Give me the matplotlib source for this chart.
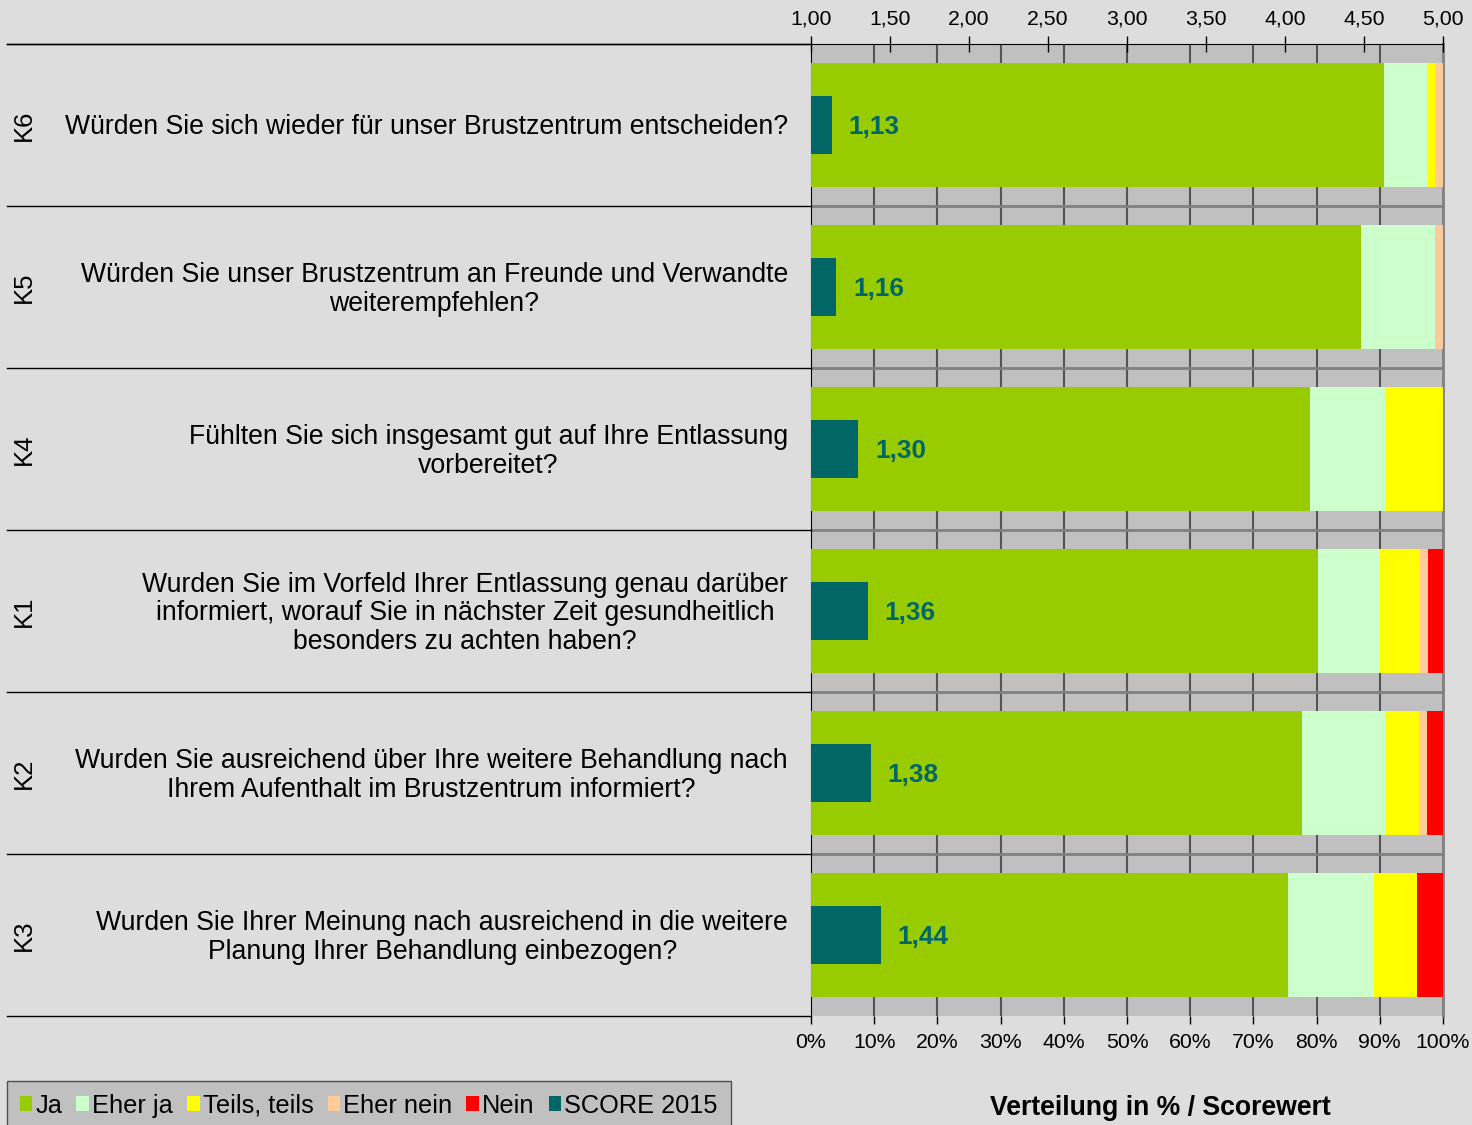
import matplotlib
matplotlib.use("Agg")
import matplotlib.pyplot as plt
from matplotlib.patches import Patch

plt.rcParams["font.family"] = ["Liberation Sans", "DejaVu Sans"]

# data (top row first)
codes = ["K6", "K5", "K4", "K1", "K2", "K3"]
questions = [
    "Würden Sie sich wieder für unser Brustzentrum entscheiden?",
    "Würden Sie unser Brustzentrum an Freunde und Verwandte\nweiterempfehlen?",
    "Fühlten Sie sich insgesamt gut auf Ihre Entlassung\nvorbereitet?",
    "Wurden Sie im Vorfeld Ihrer Entlassung genau darüber\ninformiert, worauf Sie in nächster Zeit gesundheitlich\nbesonders zu achten haben?",
    "Wurden Sie ausreichend über Ihre weitere Behandlung nach\nIhrem Aufenthalt im Brustzentrum informiert?",
    "Wurden Sie Ihrer Meinung nach ausreichend in die weitere\nPlanung Ihrer Behandlung einbezogen?",
]
ja = [90.6, 87.0, 79.0, 80.2, 77.7, 75.4]
eher_ja = [7.1, 11.8, 11.8, 9.9, 13.1, 13.7]
teils = [1.1, 0.0, 9.2, 6.3, 5.4, 6.8]
eher_nein = [1.2, 1.2, 0.0, 1.2, 1.3, 0.0]
nein = [0.0, 0.0, 0.0, 2.4, 2.5, 4.1]
score = [1.13, 1.16, 1.30, 1.36, 1.38, 1.44]

series_names = ["Ja", "Eher ja", "Teils, teils", "Eher nein", "Nein"]
series_colors = ["#99cc00", "#ccffcc", "#ffff00", "#ffcc99", "#ff0000"]
score_color = "#006666"
pct_ticks = list(range(0, 101, 10))
score_ticks = [1.0, 1.5, 2.0, 2.5, 3.0, 3.5, 4.0, 4.5, 5.0]

W, H = 1472, 1125
fig = plt.figure(figsize=(W / 100, H / 100), dpi=100, facecolor="#dddddd")
ax = fig.add_axes([811 / W, 1 - 1016 / H, 632 / W, 972 / H])
ax.set_facecolor("#c0c0c0")

rows = list(range(len(codes)))
left = [0.0] * len(codes)
for vals, color in zip([ja, eher_ja, teils, eher_nein, nein], series_colors):
    ax.barh(rows, vals, left=left, height=0.765, color=color, zorder=3)
    left = [l + v for l, v in zip(left, vals)]

ax.set_xlim(0, 100)
ax.set_ylim(len(codes) - 0.5, -0.5)
ax.set_yticks([])
ax.set_xticks(pct_ticks)
ax.set_xticklabels([f"{t}%" for t in pct_ticks], fontsize=15.3)
ax.tick_params(axis="x", direction="out", length=6, width=1, color="black", pad=6)

# grid: vertical per 10 %, horizontal at row boundaries
for t in pct_ticks[1:-1]:
    ax.axvline(t, color="#555555", lw=1.5, zorder=1)
for b in [r + 0.5 for r in rows[:-1]]:
    ax.axhline(b, color="#808080", lw=2, zorder=1)

for side in ["top", "bottom"]:
    ax.spines[side].set_visible(False)
ax.spines["right"].set_color("#808080")
ax.spines["right"].set_linewidth(2)
ax.spines["left"].set_color("black")

# separators in the label area
for b in [r - 0.5 for r in rows] + [rows[-1] + 0.5]:
    ax.plot([-804 / 632, 0], [b, b], transform=ax.get_yaxis_transform(),
            color="black", lw=1, clip_on=False, zorder=5)

# labels
for r, code, q in zip(rows, codes, questions):
    ax.text(-23 / 632, r + 0.015, q, transform=ax.get_yaxis_transform(), ha="right",
            va="center", multialignment="center", fontsize=19.2, linespacing=1.12)
    ax.text(-787 / 632, r, code, transform=ax.get_yaxis_transform(), ha="center",
            va="center", rotation=90, fontsize=18.5)

# score on a top axis (1..5)
ax2 = ax.twiny()
ax2.set_xlim(1, 5)
ax2.set_ylim(ax.get_ylim())
ax2.barh(rows, [s - 1 for s in score], left=1, height=0.364, color=score_color, zorder=4)
for r, s in zip(rows, score):
    ax2.annotate(f"{s:.2f}".replace(".", ","), xy=(s, r + 0.015), xytext=(12, 0),
                 textcoords="offset points", ha="left", va="center",
                 fontsize=18.8, fontweight="bold", color=score_color)
ax2.set_xticks(score_ticks)
ax2.set_xticklabels([f"{t:.2f}".replace(".", ",") for t in score_ticks], fontsize=15.3)
ax2.tick_params(axis="x", direction="inout", length=12, width=1, color="black", pad=5)
ax2.spines["top"].set_color("black")
for side in ["bottom", "right", "left"]:
    ax2.spines[side].set_visible(False)
ax2.plot([-804 / 632, 0], [1, 1], transform=ax2.transAxes, color="black", lw=1, clip_on=False)

# legend
handles = [Patch(facecolor=c, edgecolor="none") for c in series_colors + [score_color]]
fig.legend(handles, series_names + ["SCORE 2015"], ncol=6, loc="upper left",
           bbox_to_anchor=(7 / W, 1 - 1081 / H), borderaxespad=0, fontsize=18.3,
           frameon=True, fancybox=False, facecolor="#c0c0c0", edgecolor="#505050",
           handlelength=0.5, handleheight=0.5, handletextpad=0.12,
           columnspacing=0.55, borderpad=0.5, framealpha=1)

fig.text(1160 / W, 1 - 1108 / H, "Verteilung in % / Scorewert", ha="center", va="center",
         fontsize=19.2, fontweight="bold")

fig.savefig("out.png", dpi=100, facecolor=fig.get_facecolor())
